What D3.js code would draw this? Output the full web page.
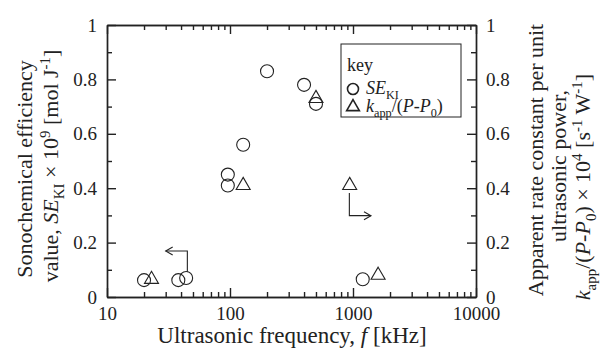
<!DOCTYPE html>
<html>
<head>
<meta charset="utf-8">
<script src="https://cdn.jsdelivr.net/npm/d3@7"></script>
<style>
  body { margin: 0; background: #fff; }
  svg text { font-family: "Liberation Serif", "Times New Roman", "DejaVu Serif", serif; }
</style>
</head>
<body>
<div id="chart"></div>
<script>
// SE_KI points (left axis)
const seFreq = [20, 38, 44, 96, 96, 128, 200, 400, 500, 1200];
const seValue = [0.062, 0.062, 0.07, 0.45, 0.41, 0.56, 0.83, 0.78, 0.71, 0.065];

// kapp/(P-P0) points (right axis)
const kFreq = [23, 128, 500, 940, 1600];
const kValue = [0.065, 0.41, 0.73, 0.41, 0.08];

// tick labels
const xMajor = [10, 100, 1000, 10000];
const yMajor = [0, 0.2, 0.4, 0.6, 0.8, 1];
const yMinor = [0.1, 0.3, 0.5, 0.7, 0.9];

// arrows pointing to their axis: [freq, value] points
const arrowLeft = [[45, 0.093], [45, 0.169], [30, 0.169]];
const arrowRight = [[934, 0.382], [934, 0.299], [1400, 0.299]];

const FONT = '"Liberation Serif", "Times New Roman", serif';
const W = 600, H = 349;
const margin = {top: 25, right: 124, bottom: 52, left: 107};
const width = W - margin.left - margin.right;
const height = H - margin.top - margin.bottom;

const svg = d3.select("#chart").append("svg")
  .attr("width", W)
  .attr("height", H)
  .attr("font-family", FONT);

const g = svg.append("g")
  .attr("transform", `translate(${margin.left},${margin.top})`);

// Scales
const x = d3.scaleLog().domain([10, 10000]).range([0, width]);
const y = d3.scaleLinear().domain([0, 1]).range([height, 0]);

const xMinor = x.ticks().filter(d => !xMajor.includes(d));

function styleAxis(sel) {
  sel.attr("font-family", FONT).attr("font-size", 19);
  sel.selectAll("path, line").attr("stroke", "#222").attr("stroke-width", 1.4);
  sel.selectAll("text").attr("fill", "#222");
}

// Bottom axis
g.append("g").attr("transform", `translate(0,${height})`)
  .call(d3.axisBottom(x).tickValues(xMajor).tickFormat(d3.format("d")).tickSize(-9).tickSizeOuter(0).tickPadding(7))
  .call(styleAxis)
  .call(s => s.selectAll("text").attr("dy", "0.85em"));
g.append("g").attr("transform", `translate(0,${height})`)
  .call(d3.axisBottom(x).tickValues(xMinor).tickFormat("").tickSize(-5).tickSizeOuter(0))
  .call(styleAxis);

// Top axis
g.append("g")
  .call(d3.axisTop(x).tickValues(xMajor).tickFormat("").tickSize(-9).tickSizeOuter(0))
  .call(styleAxis);
g.append("g")
  .call(d3.axisTop(x).tickValues(xMinor).tickFormat("").tickSize(-5).tickSizeOuter(0))
  .call(styleAxis);

// Left axis
g.append("g")
  .call(d3.axisLeft(y).tickValues(yMajor).tickFormat(d => String(d)).tickSize(-9).tickSizeOuter(0).tickPadding(10))
  .call(styleAxis);
g.append("g")
  .call(d3.axisLeft(y).tickValues(yMinor).tickFormat("").tickSize(-5).tickSizeOuter(0))
  .call(styleAxis);

// Right axis
g.append("g").attr("transform", `translate(${width},0)`)
  .call(d3.axisRight(y).tickValues(yMajor).tickFormat(d => String(d)).tickSize(-9).tickSizeOuter(0).tickPadding(10))
  .call(styleAxis);
g.append("g").attr("transform", `translate(${width},0)`)
  .call(d3.axisRight(y).tickValues(yMinor).tickFormat("").tickSize(-5).tickSizeOuter(0))
  .call(styleAxis);

// Markers
const tri = d3.symbol().type(d3.symbolTriangle).size(85);

g.selectAll("circle.se")
  .data(seFreq.map((f, i) => [f, seValue[i]]))
  .join("circle")
  .attr("class", "se")
  .attr("cx", d => x(d[0]))
  .attr("cy", d => y(d[1]))
  .attr("r", 6.5)
  .attr("fill", "none")
  .attr("stroke", "#222")
  .attr("stroke-width", 1.1);

g.selectAll("path.k")
  .data(kFreq.map((f, i) => [f, kValue[i]]))
  .join("path")
  .attr("class", "k")
  .attr("d", tri)
  .attr("transform", d => `translate(${x(d[0])},${y(d[1])})`)
  .attr("fill", "none")
  .attr("stroke", "#222")
  .attr("stroke-width", 1.1);

// Arrows
function drawArrow(pts) {
  const p = pts.map(d => [x(d[0]), y(d[1])]);
  g.append("path")
    .attr("d", d3.line()(p))
    .attr("fill", "none").attr("stroke", "#222").attr("stroke-width", 1.1);
  const [a, b] = [p[p.length - 2], p[p.length - 1]];
  const dir = Math.sign(b[0] - a[0]);
  g.append("path")
    .attr("d", `M${b[0] - dir * 7},${b[1] - 4}L${b[0]},${b[1]}L${b[0] - dir * 7},${b[1] + 4}`)
    .attr("fill", "none").attr("stroke", "#222").attr("stroke-width", 1.1);
}
drawArrow(arrowLeft);
drawArrow(arrowRight);

// Rich text helper: segments {t, i, sub, sup}
function rich(sel, segs, size) {
  let back = 0;
  segs.forEach(s => {
    const ts = sel.append("tspan").text(s.t);
    let dy = back;
    back = 0;
    if (s.i) ts.style("font-style", "italic");
    if (s.sub) { dy += size * 0.25; back = -size * 0.25; }
    if (s.sup) { dy -= size * 0.38; back = size * 0.38; }
    if (s.sub || s.sup) ts.attr("font-size", size * 0.68);
    if (dy) ts.attr("dy", dy);
  });
}

function label(xp, yp, rot, size, segs, anchor) {
  const t = svg.append("text")
    .attr("transform", `translate(${xp},${yp})` + (rot ? ` rotate(${rot})` : ""))
    .attr("text-anchor", anchor || "middle")
    .attr("font-family", FONT)
    .attr("font-size", size)
    .attr("fill", "#222");
  rich(t, segs, size);
  return t;
}

// Axis titles
label(292, 343, 0, 23, [{t: "Ultrasonic frequency, "}, {t: "f", i: true}, {t: " [kHz]"}]);

label(32, 169, -90, 22, [{t: "Sonochemical efficiency"}]);
label(58, 166, -90, 22, [{t: "value, "}, {t: "SE", i: true}, {t: "KI", sub: true}, {t: " \u00D7 10"},
  {t: "9", sup: true}, {t: " [mol J"}, {t: "-1", sup: true}, {t: "]"}]);

label(543, 160, -90, 22, [{t: "Apparent rate constant per unit"}]);
label(566, 166, -90, 22, [{t: "ultrasonic power,"}]);
label(590, 187, -90, 22, [{t: "k", i: true}, {t: "app", sub: true}, {t: "/("}, {t: "P", i: true}, {t: "-"},
  {t: "P", i: true}, {t: "0", sub: true}, {t: ") \u00D7 10"}, {t: "4", sup: true}, {t: " [s"},
  {t: "-1", sup: true}, {t: " W"}, {t: "-1", sup: true}, {t: "]"}]);

// Legend
svg.append("rect").attr("x", 341).attr("y", 44).attr("width", 120).attr("height", 73)
  .attr("fill", "#fff").attr("stroke", "#222").attr("stroke-width", 1);
label(347, 71, 0, 18, [{t: "key"}], "start");
svg.append("circle").attr("cx", 353).attr("cy", 89).attr("r", 5.5)
  .attr("fill", "none").attr("stroke", "#222").attr("stroke-width", 1.6);
svg.append("path").attr("d", d3.symbol().type(d3.symbolTriangle).size(70))
  .attr("transform", "translate(353,107)")
  .attr("fill", "none").attr("stroke", "#222").attr("stroke-width", 1.6);
label(366, 94, 0, 18, [{t: "SE", i: true}, {t: "KI", sub: true}], "start");
label(366, 112, 0, 18, [{t: "k", i: true}, {t: "app", sub: true}, {t: "/("}, {t: "P", i: true}, {t: "-"},
  {t: "P", i: true}, {t: "0", sub: true}, {t: ")"}], "start");
</script>
</body>
</html>
